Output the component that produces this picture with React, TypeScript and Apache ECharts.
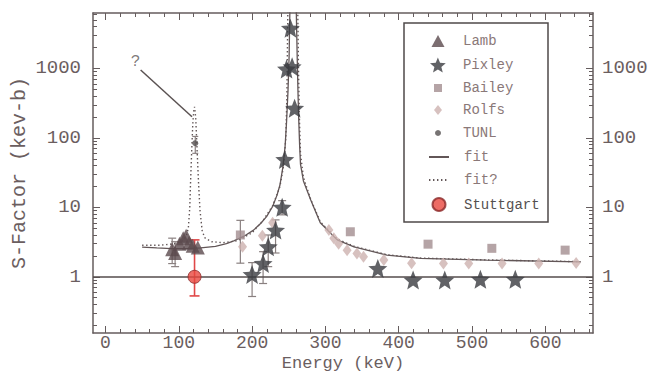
import React, { useEffect, useRef } from 'react';
import * as echarts from 'echarts';

// ---------- data (Energy keV, S-factor keV-b) ----------
const lambData = [[91, 2.5], [95, 2.2], [101, 3.0], [106, 3.6], [110, 3.9], [114, 3.1], [119, 2.8], [126, 2.65]];
const lambErr = [[91, 1.55, 3.6], [95, 1.4, 3.2]];
const pixleyData = [
  [200, 1.08], [215, 1.56], [222, 2.7], [232, 4.7], [241, 10], [244.6, 49], [247, 980], [252.3, 3800],
  [254.6, 1060], [258, 267], [371.5, 1.32], [419.6, 0.9], [462.8, 0.9], [511.4, 0.92], [559, 0.92],
];
const pixleyErr = [[200, 0.52, 1.6], [215, 0.8, 2.3], [222, 1.4, 4.0], [232, 2.2, 6.6], [241, 7.8, 12.5]];
const baileyData = [[184, 4.0], [334, 4.45], [440, 2.95], [527, 2.57], [627, 2.42]];
const baileyErr = [[184, 1.57, 6.5]];
const rolfsData = [
  [187, 2.7], [214, 3.9], [228, 6.0], [304.7, 4.7], [311.5, 3.6], [318, 3.0], [329.6, 2.42], [343, 2.17],
  [352, 1.94], [379.7, 1.74], [417.5, 1.57], [461, 1.56], [495.5, 1.56], [541, 1.56], [591, 1.56], [642, 1.58],
];
const tunlData = [[122.5, 84]];
const tunlErr = [[122.5, 60, 105]];
const stuttgartData = [[121.5, 1.0]];
const stuttgartErr = [[121.5, 0.53, 3.4]];
const fitData = [
  [50, 2.68], [70, 2.6], [90, 2.55], [110, 2.55], [130, 2.6], [150, 2.75], [165, 3.0], [175, 3.3], [190, 3.9],
  [202, 4.7], [212, 5.9], [220, 7.4], [228, 10.3], [234, 15], [238, 21], [242, 38], [245, 75], [247, 170],
  [249, 480], [250.5, 1500], [251.5, 6500], [256, 30000], [260.3, 6500], [261.5, 1500], [262.5, 500],
  [263.5, 200], [264.8, 80], [266, 42], [270, 24], [280, 12.8], [293, 6.0], [316, 3.4], [339, 2.7],
  [384, 2.05], [430, 1.84], [520, 1.74], [648, 1.64],
];
const fitQData = [
  [50, 2.85], [75, 2.85], [95, 3.0], [105, 3.3], [110, 3.8], [113, 5], [115, 10], [116, 22], [117.5, 60],
  [119, 150], [120.5, 250], [121.5, 280], [123, 200], [124, 117], [125.5, 50], [127, 22], [129, 9], [132, 4.5],
  [136, 3.6], [145, 3.2], [160, 3.1], [180, 3.3], [200, 4.3], [215, 6.5], [228, 10.5], [238, 20], [243, 40],
  [246, 100], [247.5, 400], [248.7, 6500], [255, 30000], [262.3, 6500], [263.3, 1000], [264.5, 200],
  [266, 60], [270, 27], [280, 13], [293, 6.2], [316, 3.5], [339, 2.75], [384, 2.08], [430, 1.86],
  [520, 1.75], [648, 1.65],
];
const questionLine = [[48, 950], [118, 202]];
const questionMark = [[41, 1260]];
const referenceLevel = 1;

const xMajorTicks = [0, 100, 200, 300, 400, 500, 600];
const yLabelTicks = [1, 10, 100, 1000];
const X_MIN = -17;
const X_MAX = 665;
const Y_MIN = 0.155;
const Y_MAX = 6300;

const xMinorTicks: number[] = [];
for (let v = 0; v <= 660; v += 20) if (v % 100 !== 0) xMinorTicks.push(v);
const yMinorTicksLog: number[] = [];
for (let d = -1; d <= 3; d++) {
  for (let k = 2; k <= 9; k++) {
    const v = k * Math.pow(10, d);
    if (v >= Y_MIN && v <= Y_MAX) yMinorTicksLog.push(Math.log10(v));
  }
}

const STAR = 'path://M50,0L62.93,32.2L97.55,34.55L70.92,56.8L79.39,90.45L50,72L20.61,90.45L29.08,56.8L2.45,34.55L37.07,32.2Z';
const FONT = "'Liberation Mono', 'DejaVu Sans Mono', monospace";
const AXIS_COLOR = '#655c5d';
const TEXT_COLOR = '#6b5e5f';

function errSeries(name: string, data: number[][], color: string, cap: number, width: number) {
  return {
    type: 'custom',
    name,
    xAxisIndex: 0,
    yAxisIndex: 0,
    z: 1,
    silent: true,
    data,
    encode: { x: 0, y: [1, 2] },
    renderItem: (_params: any, api: any) => {
      const x = api.value(0);
      const lo = api.coord([x, api.value(1)]);
      const hi = api.coord([x, api.value(2)]);
      const style = { stroke: color, lineWidth: width, fill: 'none' };
      return {
        type: 'group',
        children: [
          { type: 'line', shape: { x1: lo[0], y1: lo[1], x2: hi[0], y2: hi[1] }, style },
          { type: 'line', shape: { x1: lo[0] - cap, y1: lo[1], x2: lo[0] + cap, y2: lo[1] }, style },
          { type: 'line', shape: { x1: hi[0] - cap, y1: hi[1], x2: hi[0] + cap, y2: hi[1] }, style },
        ],
      };
    },
  };
}

const LEG_CX = 438;
const LEG_TEXT_X = 463;
function legendFor(name: string, cy: number, w: number, h: number, color: string, line = false) {
  const left = LEG_CX - w / 2;
  const pad = LEG_TEXT_X - (left + w + 5);
  const top = cy - Math.max(h, 14) / 2;
  const leg: any = {
    show: true,
    data: [name],
    orient: 'vertical',
    left,
    top,
    padding: 0,
    itemWidth: w,
    itemHeight: h,
    symbolKeepAspect: true,
    selectedMode: false,
    textStyle: {
      fontFamily: FONT,
      fontSize: 14,
      color,
      lineHeight: 14,
      padding: [0, 0, 0, pad],
    },
  };
  if (line) leg.itemStyle = { opacity: 0 };
  return leg;
}

export default function App() {
  const ref = useRef<HTMLDivElement>(null);
  useEffect(() => {
    if (!ref.current) return;
    const chart = echarts.init(ref.current, null, { renderer: 'svg' });
    const yLabelStyle = { fontFamily: FONT, fontSize: 19, color: TEXT_COLOR };
    const xLabelStyle = { fontFamily: FONT, fontSize: 18, color: TEXT_COLOR };
    const xBase = (position: string) => ({
      type: 'value',
      position,
      min: X_MIN,
      max: X_MAX,
      splitLine: { show: false },
    });
    const option: any = {
      animation: false,
      backgroundColor: '#ffffff',
      grid: { left: 93, right: 55, top: 13, bottom: 41, containLabel: false, outerBoundsMode: 'none' },
      graphic: [
        {
          type: 'rect',
          z: 3,
          shape: { x: 404, y: 23, width: 144, height: 199 },
          style: { fill: '#ffffff', stroke: '#4f4949', lineWidth: 1.5 },
        },
      ],
      legend: [
        legendFor('Lamb', 41, 13, 12, '#8a7878'),
        legendFor('Pixley', 65, 16, 15, '#8a7878'),
        legendFor('Bailey', 88, 8, 8, '#8a7878'),
        legendFor('Rolfs', 110, 8, 10, '#8a7878'),
        legendFor('TUNL', 133, 6, 6, '#8a7878'),
        legendFor('fit', 157, 20, 14, '#8a7878', true),
        legendFor('fit?', 180, 20, 14, '#8a7878', true),
        legendFor('Stuttgart', 204, 13, 13, '#555050'),
      ],
      xAxis: [
        {
          ...xBase('bottom'),
          name: 'Energy (keV)',
          nameLocation: 'middle',
          nameGap: 22,
          nameMoveOverlap: false,
          nameTextStyle: { fontFamily: FONT, fontSize: 17, color: TEXT_COLOR },
          axisLine: { show: true, onZero: false, lineStyle: { color: AXIS_COLOR, width: 1.5 } },
          axisTick: { show: true, inside: true, length: 7, customValues: xMajorTicks, lineStyle: { color: AXIS_COLOR, width: 1 } },
          axisLabel: { show: true, margin: 1, customValues: xMajorTicks, ...xLabelStyle },
        },
        {
          ...xBase('bottom'),
          axisLine: { show: false, onZero: false },
          axisTick: { show: true, inside: true, length: 4, customValues: xMinorTicks, lineStyle: { color: AXIS_COLOR, width: 1 } },
          axisLabel: { show: false },
        },
        {
          ...xBase('top'),
          axisLine: { show: true, onZero: false, lineStyle: { color: AXIS_COLOR, width: 1.5 } },
          axisTick: { show: true, inside: true, length: 7, customValues: xMajorTicks, lineStyle: { color: AXIS_COLOR, width: 1 } },
          axisLabel: { show: false },
        },
        {
          ...xBase('top'),
          axisLine: { show: false, onZero: false },
          axisTick: { show: true, inside: true, length: 4, customValues: xMinorTicks, lineStyle: { color: AXIS_COLOR, width: 1 } },
          axisLabel: { show: false },
        },
      ],
      yAxis: [
        {
          type: 'log',
          logBase: 10,
          position: 'left',
          min: Y_MIN,
          max: Y_MAX,
          name: 'S-Factor (kev-b)',
          nameLocation: 'middle',
          nameGap: 64,
          nameMoveOverlap: false,
          nameTextStyle: { fontFamily: FONT, fontSize: 20, color: TEXT_COLOR },
          splitLine: { show: false },
          axisLine: { show: true, onZero: false, lineStyle: { color: AXIS_COLOR, width: 1.5 } },
          axisTick: { show: true, inside: true, length: 7, lineStyle: { color: AXIS_COLOR, width: 1 } },
          axisLabel: {
            show: true,
            margin: 12,
            showMinLabel: false,
            showMaxLabel: false,
            formatter: (v: number) => (yLabelTicks.some((t) => Math.abs(t - v) < 1e-6 * t) ? String(Math.round(v)) : ''),
            ...yLabelStyle,
          },
        },
        {
          type: 'value',
          position: 'left',
          min: Math.log10(Y_MIN),
          max: Math.log10(Y_MAX),
          splitLine: { show: false },
          axisLine: { show: false, onZero: false },
          axisTick: { show: true, inside: true, length: 4, customValues: yMinorTicksLog, lineStyle: { color: AXIS_COLOR, width: 1 } },
          axisLabel: { show: false },
        },
        {
          type: 'log',
          logBase: 10,
          position: 'right',
          min: Y_MIN,
          max: Y_MAX,
          splitLine: { show: false },
          axisLine: { show: true, onZero: false, lineStyle: { color: AXIS_COLOR, width: 1.5 } },
          axisTick: { show: true, inside: true, length: 7, lineStyle: { color: AXIS_COLOR, width: 1 } },
          axisLabel: {
            show: true,
            margin: 9,
            showMinLabel: false,
            showMaxLabel: false,
            formatter: (v: number) => (yLabelTicks.some((t) => Math.abs(t - v) < 1e-6 * t) ? String(Math.round(v)) : ''),
            ...yLabelStyle,
          },
        },
        {
          type: 'value',
          position: 'right',
          min: Math.log10(Y_MIN),
          max: Math.log10(Y_MAX),
          splitLine: { show: false },
          axisLine: { show: false, onZero: false },
          axisTick: { show: true, inside: true, length: 4, customValues: yMinorTicksLog, lineStyle: { color: AXIS_COLOR, width: 1 } },
          axisLabel: { show: false },
        },
      ],
      series: [
        {
          type: 'line',
          name: 'fit',
          data: fitData,
          symbol: 'none',
          showSymbol: false,
          z: 2,
          lineStyle: { color: '#625657', width: 1.3, type: 'solid' },
          itemStyle: { color: '#625657' },
          markLine: {
            silent: true,
            symbol: 'none',
            label: { show: false },
            lineStyle: { color: '#544c4d', width: 1.5, type: 'solid' },
            data: [{ yAxis: referenceLevel }],
          },
        },
        {
          type: 'line',
          name: 'fit?',
          data: fitQData,
          symbol: 'none',
          showSymbol: false,
          z: 2,
          lineStyle: { color: '#625657', width: 1.4, type: [1.4, 2.6] },
          itemStyle: { color: '#625657' },
        },
        {
          type: 'line',
          name: 'questionLine',
          data: questionLine,
          symbol: 'none',
          z: 2,
          lineStyle: { color: '#5a5252', width: 1.5 },
        },
        {
          type: 'scatter',
          name: 'questionMark',
          data: questionMark,
          symbolSize: 1,
          itemStyle: { color: 'transparent' },
          label: { show: true, position: 'inside', formatter: '?', fontFamily: FONT, fontSize: 16, color: '#5e5757' },
        },
        errSeries('errLamb', lambErr, '#8a8080', 4, 1.2),
        errSeries('errPixley', pixleyErr, '#8a8080', 4, 1.2),
        errSeries('errBailey', baileyErr, '#8a8080', 4, 1.2),
        errSeries('errTunl', tunlErr, '#8a8080', 3, 1.2),
        errSeries('errStuttgart', stuttgartErr, '#e04848', 5, 1.6),
        {
          type: 'scatter',
          name: 'Rolfs',
          data: rolfsData,
          symbol: 'diamond',
          symbolSize: [9, 12],
          z: 3,
          itemStyle: { color: '#cdb1af' },
        },
        {
          type: 'scatter',
          name: 'Bailey',
          data: baileyData,
          symbol: 'rect',
          symbolSize: 9,
          z: 3,
          itemStyle: { color: '#a38d90' },
        },
        {
          type: 'scatter',
          name: 'Lamb',
          data: lambData,
          symbol: 'triangle',
          symbolSize: 14,
          z: 4,
          itemStyle: { color: '#5b4a4d' },
        },
        {
          type: 'scatter',
          name: 'Pixley',
          data: pixleyData,
          symbol: STAR,
          symbolSize: 19,
          z: 5,
          itemStyle: { color: '#3a3b40' },
        },
        {
          type: 'scatter',
          name: 'TUNL',
          data: tunlData,
          symbol: 'circle',
          symbolSize: 6,
          z: 5,
          itemStyle: { color: '#555050' },
        },
        {
          type: 'scatter',
          name: 'Stuttgart',
          data: stuttgartData,
          symbol: 'circle',
          symbolSize: 13,
          z: 6,
          itemStyle: { color: '#e8473f', borderColor: '#8b2a2a', borderWidth: 1 },
        },
      ],
    };
    chart.setOption(option);
    return () => chart.dispose();
  }, []);
  return (
    <div
      ref={ref}
      style={{ position: 'fixed', left: 0, top: 0, width: 648, height: 374, background: '#fff' }}
    />
  );
}
